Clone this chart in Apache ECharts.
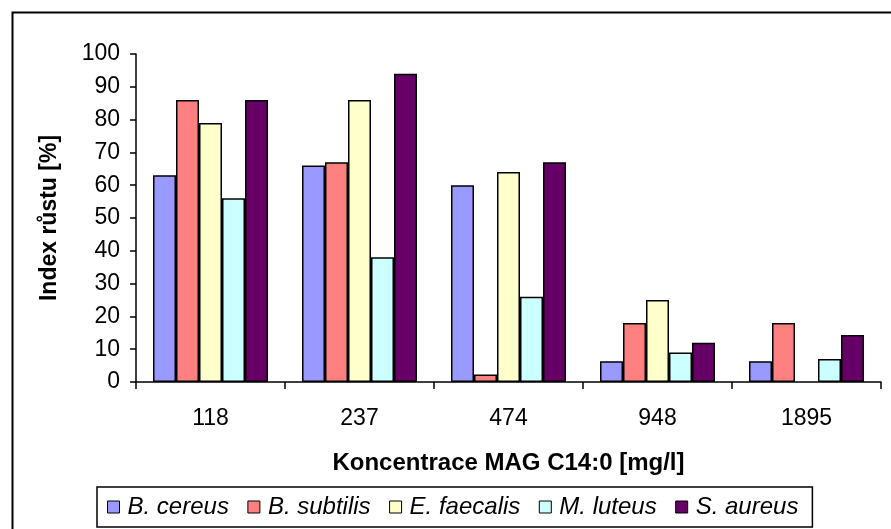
<!DOCTYPE html>
<html>
<head>
<meta charset="utf-8">
<script src="https://cdn.jsdelivr.net/npm/echarts@6/dist/echarts.min.js"></script>
<style>
html,body{margin:0;padding:0;background:#fff;}
#c{width:891px;height:529px;}
</style>
</head>
<body>
<div id="c"></div>
<script>
var categories = ['118', '237', '474', '948', '1895'];
var seriesNames = ['B. cereus', 'B. subtilis', 'E. faecalis', 'M. luteus', 'S. aureus'];
var bCereus = [63, 66, 60, 6.3, 6.3];
var bSubtilis = [86, 67, 2.3, 18, 18];
var eFaecalis = [79, 86, 64, 25, null];
var mLuteus = [56, 38, 26, 9, 7];
var sAureus = [86, 94, 67, 12, 14.3];
var yTicks = [0, 100, 10];
var colors = ['#9999FF', '#FF8080', '#FFFFCC', '#CCFFFF', '#660066'];

var seriesData = [bCereus, bSubtilis, eFaecalis, mLuteus, sAureus];
var FONT = '"Liberation Sans", Arial, sans-serif';

var chart = echarts.init(document.getElementById('c'), null, {renderer: 'canvas'});
chart.setOption({
  animation: false,
  backgroundColor: '#fff',
  graphic: [{
    type: 'rect', left: 10, top: 10, silent: true, z: -10,
    shape: {x: 0, y: 0, width: 920, height: 600},
    style: {fill: 'none', stroke: '#000', lineWidth: 2}
  }],
  grid: {left: 136, right: 10, top: 54, bottom: 147, containLabel: false},
  legend: {
    data: seriesNames,
    left: 97, top: 487,
    padding: [8, 14, 8, 10],
    itemGap: 18.5,
    itemWidth: 12, itemHeight: 12,
    icon: 'rect',
    borderColor: '#000', borderWidth: 1.5,
    backgroundColor: '#fff',
    itemStyle: {borderColor: '#000', borderWidth: 1},
    textStyle: {fontFamily: FONT, fontSize: 24, fontStyle: 'italic', color: '#000', padding: [0, 0, 0, 3]}
  },
  xAxis: {
    type: 'category', data: categories, boundaryGap: true,
    name: 'Koncentrace MAG C14:0 [mg/l]', nameLocation: 'middle', nameGap: 69,
    nameTextStyle: {fontFamily: FONT, fontSize: 24, fontWeight: 'bold', color: '#000'},
    axisLine: {show: true, lineStyle: {color: '#000', width: 1.5}},
    axisTick: {show: true, alignWithLabel: false, length: 7, lineStyle: {color: '#000', width: 1.5}},
    axisLabel: {fontFamily: FONT, fontSize: 23, color: '#000', margin: 25},
    splitLine: {show: false}
  },
  yAxis: {
    type: 'value', min: yTicks[0], max: yTicks[1], interval: yTicks[2],
    name: 'Index růstu [%]', nameLocation: 'middle', nameGap: 75, nameRotate: 90,
    nameTextStyle: {fontFamily: FONT, fontSize: 23, fontWeight: 'bold', color: '#000'},
    axisLine: {show: true, lineStyle: {color: '#000', width: 1.5}},
    axisTick: {show: true, inside: false, length: 6, lineStyle: {color: '#000', width: 1.5}},
    axisLabel: {fontFamily: FONT, fontSize: 23, color: '#000', margin: 16},
    splitLine: {show: false}
  },
  series: seriesNames.map(function (n, i) {
    return {
      name: n, type: 'bar', data: seriesData[i],
      barWidth: 23, barGap: '0%',
      itemStyle: {color: colors[i], borderColor: '#000', borderWidth: 1.5},
      emphasis: {disabled: true}
    };
  })
});
</script>
</body>
</html>
